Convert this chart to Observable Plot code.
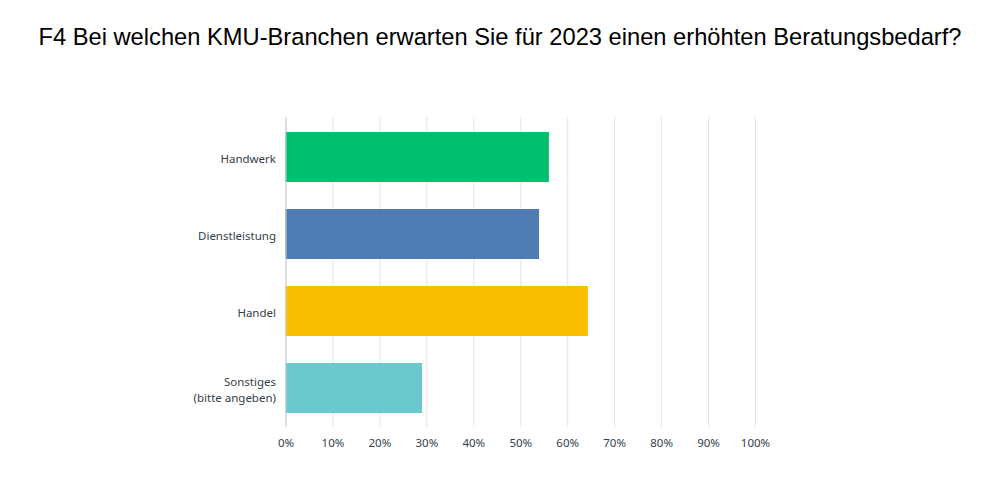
<!DOCTYPE html>
<html>
<head>
<meta charset="utf-8">
<script src="https://cdn.jsdelivr.net/npm/d3@7"></script>
<script src="https://cdn.jsdelivr.net/npm/@observablehq/plot@0.6"></script>
<style>
  html, body { margin: 0; padding: 0; background: #fff; }
  #wrap { position: relative; width: 1000px; height: 500px; }
  #title { position: absolute; left: 0; top: 24px; width: 1000px; text-align: center;
    font-family: "Liberation Sans", Arial, sans-serif; font-size: 23.7px; color: #000; white-space: nowrap; }
  #chart { position: absolute; left: 0; top: 0; }
</style>
</head>
<body>
<div id="wrap">
  <div id="chart"></div>
  <div id="title">F4 Bei welchen KMU-Branchen erwarten Sie für 2023 einen erhöhten Beratungsbedarf?</div>
</div>
<script>
const categories = ["Handwerk", "Dienstleistung", "Handel", "Sonstiges\n(bitte angeben)"];
const values = [56.1, 54.0, 64.4, 29.1];
const colors = ["#00BF6F", "#507CB6", "#F9BE00", "#6BC8CD"];
const xTicks = [0, 10, 20, 30, 40, 50, 60, 70, 80, 90, 100];

const data = categories.map((c, i) => ({category: c, value: values[i], color: colors[i]}));

const chart = Plot.plot({
  width: 1000,
  height: 500,
  marginTop: 117,
  marginBottom: 73,
  marginLeft: 285.5,
  marginRight: 245,
  style: {fontFamily: "'Noto Sans', sans-serif", fontSize: "11.5px", color: "#333e48", background: "#fff"},
  x: {domain: [0, 100], ticks: xTicks},
  y: {domain: categories, paddingInner: 0.353, paddingOuter: 0.18},
  marks: [
    Plot.gridX(xTicks, {stroke: "#e4e4e4", strokeOpacity: 1}),
    Plot.barX(data, {x: "value", y: "category", fill: "color"}),
    Plot.ruleX([0], {stroke: "#cccccc"}),
    Plot.ruleY([0], {frameAnchor: "bottom", stroke: "#cccccc"}),
    Plot.axisX(xTicks, {tickSize: 0, tickPadding: 11, tickFormat: d => d + "%", fill: "#333e48", label: null}),
    Plot.axisY({tickSize: 0, tickPadding: 10, fill: "#333e48", label: null, lineHeight: 1.4})
  ]
});
document.getElementById("chart").appendChild(chart);
</script>
</body>
</html>
